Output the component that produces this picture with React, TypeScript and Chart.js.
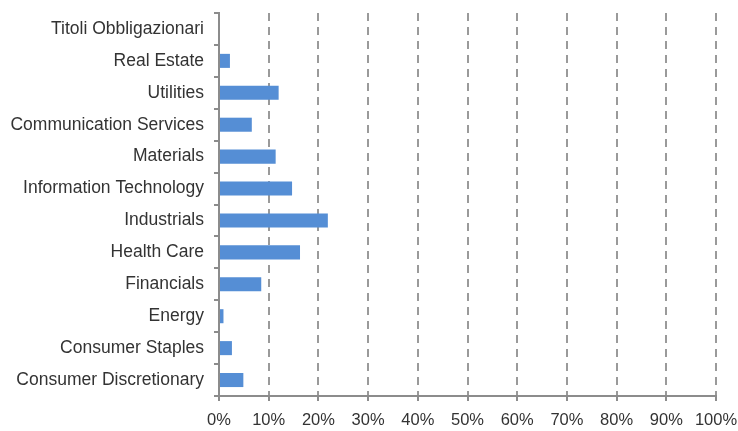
import React, { useEffect, useRef } from "react";
import { Chart, registerables } from "chart.js";

Chart.register(...registerables);

const categories = [
  "Titoli Obbligazionari",
  "Real Estate",
  "Utilities",
  "Communication Services",
  "Materials",
  "Information Technology",
  "Industrials",
  "Health Care",
  "Financials",
  "Energy",
  "Consumer Staples",
  "Consumer Discretionary",
];

const weights = [0, 2.2, 12.0, 6.6, 11.4, 14.7, 21.9, 16.3, 8.5, 0.9, 2.6, 4.9];

const xMin = 0;
const xMax = 100;
const xStep = 10;

export default function App() {
  const ref = useRef<HTMLCanvasElement | null>(null);

  useEffect(() => {
    document.body.style.margin = "0";
    const canvas = ref.current;
    if (!canvas) return;
    const family = "'Liberation Sans', Arial, sans-serif";
    const chart = new Chart(canvas, {
      type: "bar",
      data: {
        labels: categories,
        datasets: [
          {
            data: weights,
            backgroundColor: "#558ED5",
            borderWidth: 0,
            barPercentage: 0.88,
            categoryPercentage: 0.5,
          },
        ],
      },
      options: {
        indexAxis: "y",
        responsive: false,
        animation: false,
        layout: { padding: { top: 13, right: 22, bottom: 0, left: 0 } },
        plugins: { legend: { display: false }, tooltip: { enabled: false } },
        scales: {
          x: {
            min: xMin,
            max: xMax,
            afterFit: (scale: any) => {
              scale.height = 35;
              scale.paddingLeft = 0;
              scale.paddingRight = 0;
            },
            ticks: {
              stepSize: xStep,
              autoSkip: false,
              callback: (v: any) => v + "%",
              color: "#333333",
              font: { family, size: 16.5 },
              padding: 10,
              maxRotation: 0,
            },
            grid: {
              color: "#9a9a9a",
              lineWidth: 2,
              tickLength: 5,
              tickColor: "#8c8c8c",
              tickBorderDash: [],
            },
            border: { display: true, color: "#8c8c8c", width: 2, dash: [8, 6] },
          },
          y: {
            afterFit: (scale: any) => {
              scale.width = 219;
              scale.paddingTop = 0;
              scale.paddingBottom = 0;
            },
            ticks: { color: "#333333", font: { family, size: 17.5 }, padding: 10 },
            grid: {
              drawOnChartArea: false,
              drawTicks: true,
              tickLength: 5,
              color: "#8c8c8c",
              lineWidth: 2,
              offset: true,
            },
            border: { display: true, color: "#8c8c8c", width: 2 },
          },
        },
      },
    });
    return () => chart.destroy();
  }, []);

  return (
    <div style={{ position: "relative", width: 738, height: 431 }}>
      <canvas ref={ref} width={738} height={431} />
    </div>
  );
}
